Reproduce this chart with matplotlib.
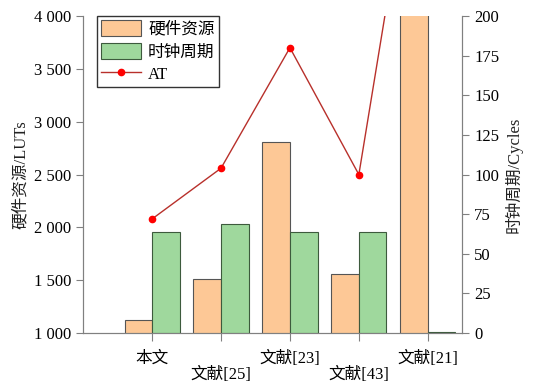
import matplotlib
matplotlib.use('Agg')
from matplotlib import pyplot as plt
import numpy as np

plt.rcParams['font.family'] = ['Liberation Serif', 'Noto Sans CJK SC']

# data
labels = ['本文', '文献[25]', '文献[23]', '文献[43]', '文献[21]']
luts = [1120, 1510, 2810, 1560, 5600]      # 硬件资源 (left axis)
cycles = [64, 69, 64, 64, 1]               # 时钟周期 (right axis)
at = [72, 104, 180, 100, 365]              # AT (right axis)

left_ticks = [1000, 1500, 2000, 2500, 3000, 3500, 4000]
left_tick_labels = ['1 000', '1 500', '2 000', '2 500', '3 000', '3 500', '4 000']
right_ticks = [0, 25, 50, 75, 100, 125, 150, 175, 200]

x = np.arange(len(labels))
w = 0.4

fig = plt.figure(figsize=(5.4, 3.86), dpi=100)
ax = fig.add_axes([0.154, 0.137, 0.702, 0.8215])
ax2 = ax.twinx()

b1 = ax.bar(x - w, luts, width=w, align='edge', color='#FDC896',
            edgecolor='#555555', linewidth=0.8, label='硬件资源')
b2 = ax2.bar(x, cycles, width=w, align='edge', color='#9FD89D',
             edgecolor='#3d5a3d', linewidth=0.8, label='时钟周期')
l1, = ax2.plot(x, at, color='#B8302B', lw=1.0, marker='o', markersize=4.5,
               markerfacecolor='red', markeredgecolor='red', label='AT')

ax.set_xlim(-1, 4.5)
ax.set_ylim(1000, 4000)
ax2.set_ylim(0, 200)

ax.set_yticks(left_ticks)
ax.set_yticklabels(left_tick_labels)
ax2.set_yticks(right_ticks)

ax.set_xticks(x)
ax.set_xticklabels(labels)

for a in (ax, ax2):
    a.spines['top'].set_visible(False)
    for s in ('left', 'right', 'bottom'):
        a.spines[s].set_color('#808080')
    a.tick_params(colors='#808080', labelcolor='black', labelsize=12)
ax.tick_params(axis='x', length=6)
ax.tick_params(axis='y', length=5)
ax2.tick_params(axis='y', length=5)

# staggered category labels
for i, t in enumerate(ax.xaxis.get_major_ticks()):
    t.set_pad(7 if i % 2 == 0 else 18.5)

ax.set_ylabel('硬件资源/LUTs', fontsize=12, color='#222222')
ax2.set_ylabel('时钟周期/Cycles', fontsize=12, color='#222222')

leg = ax2.legend(handles=[b1, b2, l1], loc='upper left', fontsize=12,
                 frameon=True, fancybox=False, edgecolor='black',
                 handlelength=2.4, handleheight=1.1, borderaxespad=0.0,
                 bbox_to_anchor=(0.037, 1.0), borderpad=0.25,
                 labelspacing=0.3, handletextpad=0.4)
leg.get_frame().set_linewidth(1.0)

fig.savefig('out.png', dpi=100)
